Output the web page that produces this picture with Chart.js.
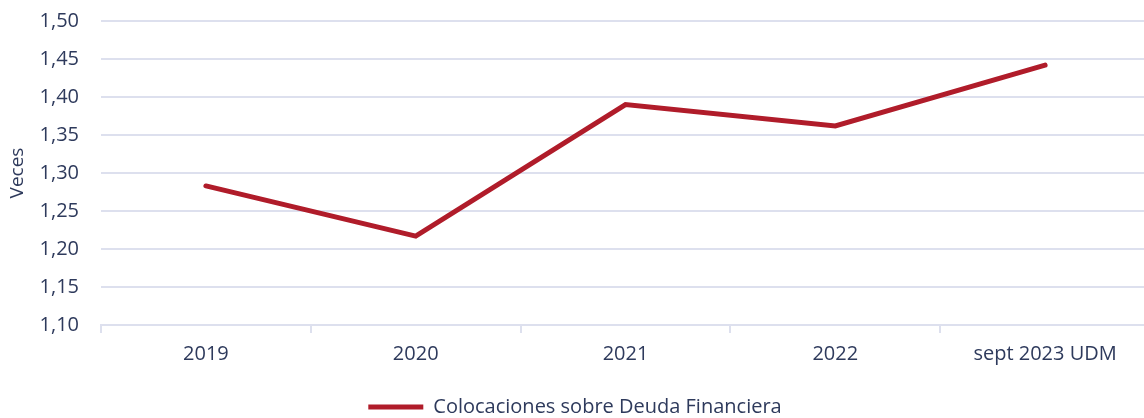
<!DOCTYPE html>
<html>
<head>
<meta charset="utf-8">
<script src="https://cdn.jsdelivr.net/npm/chart.js@4/dist/chart.umd.min.js"></script>
<style>
  html, body { margin: 0; padding: 0; background: #ffffff; overflow: hidden; }
  #wrap { width: 1144px; height: 418px; position: relative; overflow: hidden; }
</style>
</head>
<body>
<div id="wrap"><canvas id="c" width="1150" height="418"></canvas></div>
<script>
const categories = ['2019', '2020', '2021', '2022', 'sept 2023 UDM'];
const seriesName = 'Colocaciones sobre Deuda Financiera';
const seriesValues = [1.283, 1.217, 1.390, 1.362, 1.442];
const yMin = 1.10;
const yMax = 1.50;
const yStep = 0.05;
const yTitle = 'Veces';

const textColor = '#2E3A5C';
const gridColor = '#DDE0EE';
const lineColor = '#B01C2A';
const fontFamily = '"Open Sans", "Noto Sans", sans-serif';

const legendHeightPlugin = {
  id: 'legendHeight',
  afterInit(chart) {
    const lg = chart.legend;
    if (!lg) return;
    const orig = lg.fit.bind(lg);
    lg.fit = function () { orig(); this.height = 21; };
  }
};

new Chart(document.getElementById('c'), {
  type: 'line',
  data: {
    labels: categories,
    datasets: [{
      label: seriesName,
      data: seriesValues,
      borderColor: lineColor,
      backgroundColor: lineColor,
      borderWidth: 5,
      borderCapStyle: 'round',
      borderJoinStyle: 'miter',
      pointRadius: 0,
      pointHoverRadius: 0,
      tension: 0,
      fill: false
    }]
  },
  plugins: [legendHeightPlugin],
  options: {
    responsive: false,
    animation: false,
    devicePixelRatio: 1,
    layout: { padding: { top: 21, right: 0, bottom: 0, left: 0 } },
    plugins: {
      tooltip: { enabled: false },
      legend: {
        position: 'bottom',
        labels: {
          usePointStyle: true,
          pointStyle: 'line',
          pointStyleWidth: 55,
          color: textColor,
          font: { family: fontFamily, size: 20 },
          padding: 0
        }
      }
    },
    scales: {
      x: {
        type: 'category',
        offset: true,
        grid: {
          offset: true,
          drawOnChartArea: false,
          drawTicks: true,
          tickLength: 8,
          color: gridColor,
          lineWidth: 2
        },
        border: { display: true, color: gridColor, width: 2 },
        ticks: {
          color: textColor,
          font: { family: fontFamily, size: 20 },
          padding: 9,
          maxRotation: 0,
          autoSkip: false
        },
        afterFit: (s) => { s.height = 72; }
      },
      y: {
        min: yMin,
        max: yMax,
        grid: {
          color: gridColor,
          lineWidth: 2,
          drawTicks: true,
          tickLength: 20,
          tickColor: 'rgba(0,0,0,0)'
        },
        border: { display: false },
        ticks: {
          stepSize: yStep,
          color: textColor,
          font: { family: fontFamily, size: 20 },
          padding: 2,
          callback: (v) => Number(v).toFixed(2).replace('.', ',')
        },
        title: {
          display: true,
          text: yTitle,
          color: textColor,
          font: { family: fontFamily, size: 19 },
          padding: { top: 6, bottom: 0 }
        },
        afterFit: (s) => { s.width = 101; }
      }
    }
  }
});
</script>
</body>
</html>
